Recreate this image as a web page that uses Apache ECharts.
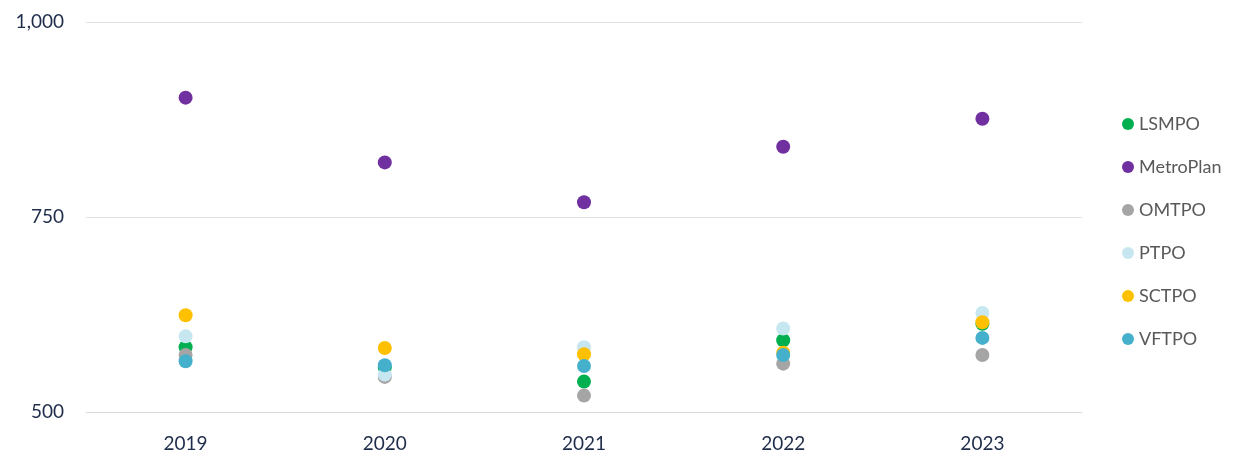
<!DOCTYPE html>
<html><head><meta charset="utf-8">
<script src="https://cdn.jsdelivr.net/npm/echarts@6/dist/echarts.min.js"></script>
<style>html,body{margin:0;padding:0;background:#fff}#c{width:1234px;height:453px}</style>
</head><body><div id="c"></div>
<script>
const categories = ['2019','2020','2021','2022','2023'];
const seriesNames = ['LSMPO','MetroPlan','OMTPO','PTPO','SCTPO','VFTPO'];
const LSMPO = [583, 557, 539, 592, 613];
const MetroPlan = [903, 820, 769, 840, 876];
const OMTPO = [573, 545, 521, 562, 573];
const PTPO = [597, 548, 583, 607, 627];
const SCTPO = [624, 582, 574, 576, 615];
const VFTPO = [565, 560, 559, 573, 595];
const yTicks = [500, 750, 1000];
const values = [LSMPO, MetroPlan, OMTPO, PTPO, SCTPO, VFTPO];
const colors = ['#00b050','#7030a0','#a5a5a5','#c6e7ef','#ffc000','#45b0cc'];
const font = 'Lato, "Liberation Sans", sans-serif';
const chart = echarts.init(document.getElementById('c'));
chart.setOption({
  animation:false,
  color: colors,
  grid:{left:86,right:152,top:22,bottom:41},
  legend:{orient:'vertical',left:1117,top:110,itemGap:25,icon:'circle',itemWidth:12,itemHeight:12,
    textStyle:{fontFamily:font,fontSize:18,color:'#595959',lineHeight:16},
    data:seriesNames},
  xAxis:{type:'category',data:categories,boundaryGap:true,
    axisLine:{lineStyle:{color:'#d9d9d9',width:1}},axisTick:{show:false},
    axisLabel:{fontFamily:font,fontSize:19,color:'#1f2d4a',margin:22}},
  yAxis:{type:'value',min:500,max:1000,interval:250,
    axisLine:{show:false},axisTick:{show:false},
    splitLine:{lineStyle:{color:'#e3e3e3',width:1}},
    axisLabel:{fontFamily:font,fontSize:19,color:'#1f2d4a',margin:22,
      formatter:v=>yTicks.includes(v)?v.toLocaleString('en-US'):''}},
  series: seriesNames.map((n,i)=>({name:n,type:'scatter',data:values[i],symbol:'circle',symbolSize:14,
     itemStyle:{opacity:1}}))
});
</script></body></html>
